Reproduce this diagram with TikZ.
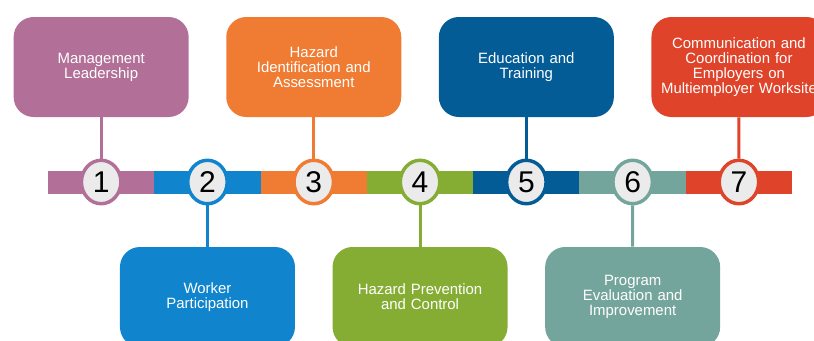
\documentclass[tikz,border=0pt]{standalone}
\usepackage{fontspec}
\setmainfont{Liberation Sans}
\usetikzlibrary{positioning,shapes.geometric}
\definecolor{c1}{RGB}{178,112,152}
\definecolor{c2}{RGB}{16,133,205}
\definecolor{c3}{RGB}{239,124,50}
\definecolor{c4}{RGB}{133,173,52}
\definecolor{c5}{RGB}{3,92,150}
\definecolor{c6}{RGB}{116,165,156}
\definecolor{c7}{RGB}{223,68,42}
\definecolor{ringgray}{RGB}{235,235,235}

\begin{document}
\begin{tikzpicture}[x=0.75pt,y=-0.75pt]
    \tikzstyle{segment} = [rectangle,minimum width=79.8pt,minimum height=17.25pt,inner sep=0pt]
    \tikzstyle{numring} = [ellipse,draw,line width=2.6pt,fill=ringgray,minimum width=29.6pt,minimum height=32.6pt,inner sep=0pt,font=\fontsize{22.5}{22.5}\selectfont]
    \tikzstyle{card} = [rectangle,rounded corners=15pt,minimum width=131.25pt,minimum height=75pt,text width=124pt,align=center,text=white,font=\fontsize{11.2}{11.25}\selectfont]
    \tikzstyle{stem} = [line width=2.25pt]
      \useasboundingbox (0,0) rectangle (814,340);
      \clip (0,0) rectangle (814,340);
      \foreach \i in {1,...,7} \node[segment,fill=c\i] (seg\i) at ({48+106.3*(\i-0.5)},182) {};
      \node[card,fill=c1] (box1) at (101.15,67) {Management\\Leadership};
      \node[card,fill=c2] (box2) at (207.45,297) {Worker\\Participation};
      \node[card,fill=c3] (box3) at (313.75,67) {Hazard\\Identification and\\Assessment};
      \node[card,fill=c4] (box4) at (420.05,297) {Hazard Prevention\\and Control};
      \node[card,fill=c5] (box5) at (526.35,67) {Education and\\Training};
      \node[card,fill=c6] (box6) at (632.65,297) {Program\\Evaluation and\\Improvement};
      \node[card,fill=c7] (box7) at (738.95,67) {Communication and\\Coordination for\\Employers on\\Multiemployer Worksite};
      \foreach \i in {1,...,7} \node[numring,draw=c\i] (num\i) at (seg\i) {\i};
      \foreach \i in {1,...,7} \draw[stem,c\i] (box\i) -- (num\i);
  \end{tikzpicture}
\end{document}
